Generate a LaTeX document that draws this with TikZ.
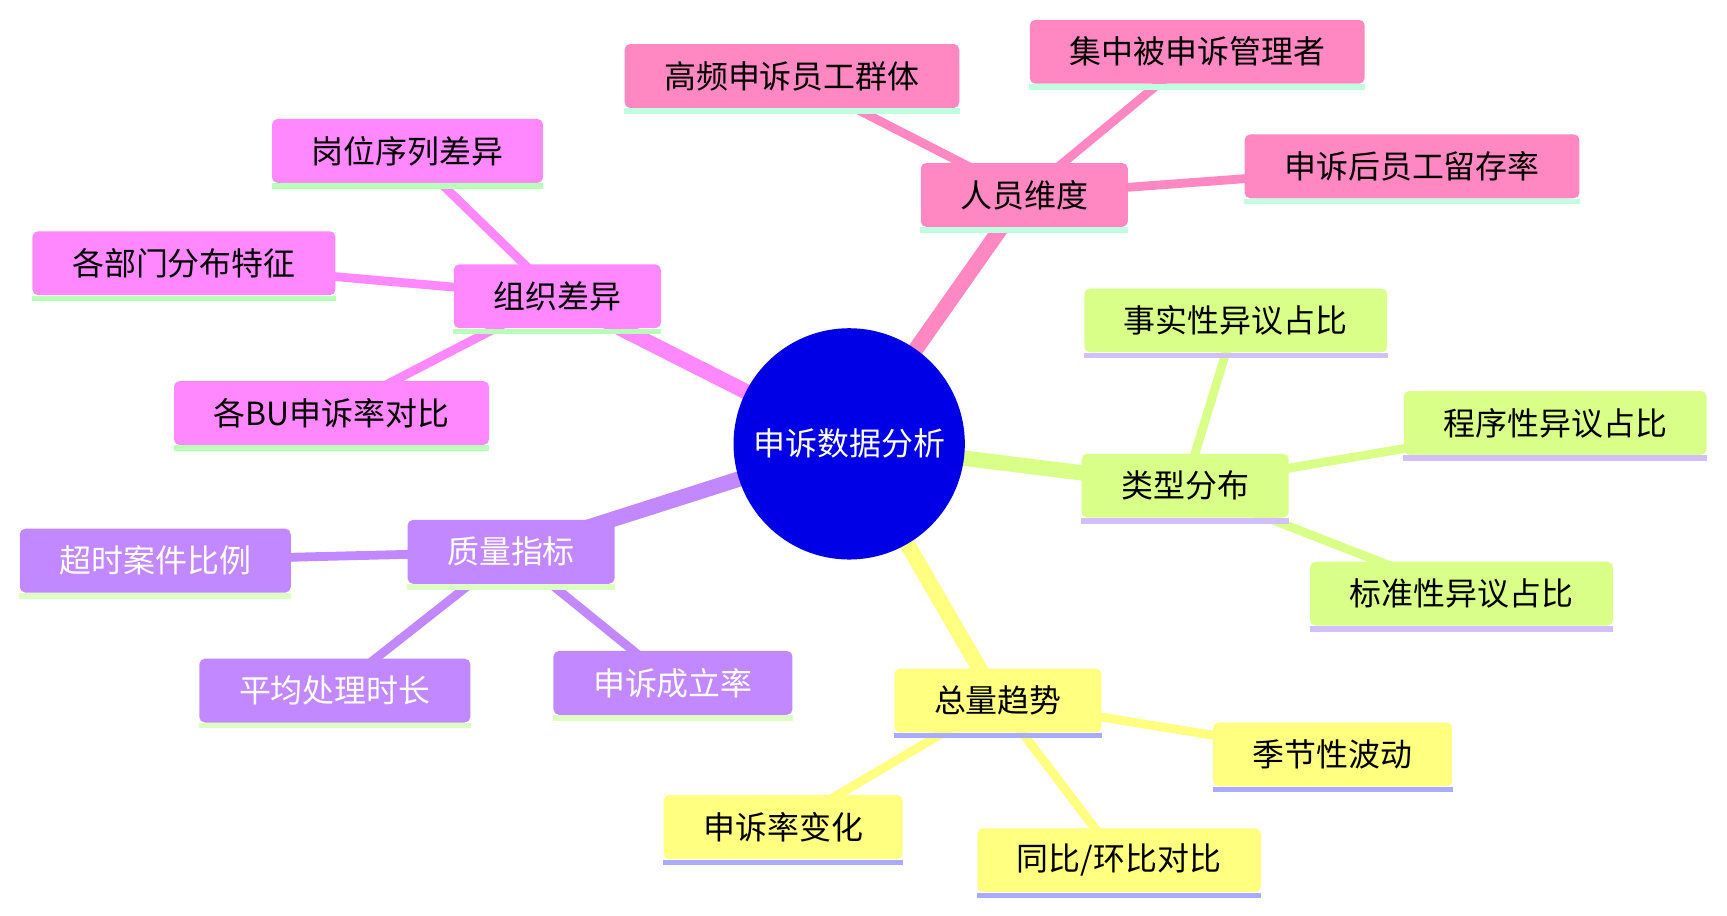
\documentclass[tikz,border=0pt]{standalone}
\usepackage{fontspec}
\setmainfont{Noto Sans CJK SC}
\usetikzlibrary{backgrounds}
\definecolor{cpink}{HTML}{FF88C2}
\definecolor{upink}{HTML}{BFFFE2}
\definecolor{cmag}{HTML}{FF88FF}
\definecolor{umag}{HTML}{B8FFB8}
\definecolor{cpur}{HTML}{C288FF}
\definecolor{upur}{HTML}{DEFFC4}
\definecolor{clime}{HTML}{DAFF88}
\definecolor{ulime}{HTML}{D2BFFF}
\definecolor{cyel}{HTML}{FFFF80}
\definecolor{uyel}{HTML}{AAAAFF}
\definecolor{cblue}{HTML}{0000E6}
\begin{document}
\begin{tikzpicture}[x=0.5pt,y=-0.5pt,
  box/.style={rectangle, rounded corners=2.5pt, minimum height=29pt, inner xsep=18pt, inner ysep=0pt,
    font=\fontsize{14.5pt}{17pt}\selectfont, text=black},
  trunk/.style={line width=7pt},
  twig/.style={line width=4pt},
]
\useasboundingbox (0,0) rectangle (1568,831);

\node[circle, fill=cblue, minimum size=105pt, inner sep=0pt, text=white,
  font=\fontsize{14.5pt}{17pt}\selectfont] (root) at (771,403) {申诉数据分析};

% branch 1
\node[box, fill=cpink] (p) at (930,177) {人员维度};
\node[box, fill=cpink] (p1) at (719,69) {高频申诉员工群体};
\node[box, fill=cpink] (p2) at (1087,47) {集中被申诉管理者};
\node[box, fill=cpink] (p3) at (1282,151) {申诉后员工留存率};
% branch 2
\node[box, fill=cmag] (o) at (506,269) {组织差异};
\node[box, fill=cmag] (o1) at (370,137) {岗位序列差异};
\node[box, fill=cmag] (o2) at (167,239) {各部门分布特征};
\node[box, fill=cmag] (o3) at (301,375) {各BU申诉率对比};
% branch 3
\node[box, fill=cpur, text=white] (q) at (464,501) {质量指标};
\node[box, fill=cpur, text=white] (q1) at (141,509) {超时案件比例};
\node[box, fill=cpur, text=white] (q2) at (304,627) {平均处理时长};
\node[box, fill=cpur, text=white] (q3) at (611,620) {申诉成立率};
% branch 4
\node[box, fill=clime] (t) at (1076,441) {类型分布};
\node[box, fill=clime] (t1) at (1122,291) {事实性异议占比};
\node[box, fill=clime] (t2) at (1412,384) {程序性异议占比};
\node[box, fill=clime] (t3) at (1327,539) {标准性异议占比};
% branch 5
\node[box, fill=cyel] (s) at (906,636) {总量趋势};
\node[box, fill=cyel] (s1) at (1210,685) {季节性波动};
\node[box, fill=cyel] (s2) at (711,751) {申诉率变化};
\node[box, fill=cyel] (s3) at (1016,781) {同比/环比对比};

% underlines
\foreach \n/\c in {p/upink,p1/upink,p2/upink,p3/upink,
                   o/umag,o1/umag,o2/umag,o3/umag,
                   q/upur,q1/upur,q2/upur,q3/upur,
                   t/ulime,t1/ulime,t2/ulime,t3/ulime,
                   s/uyel,s1/uyel,s2/uyel,s3/uyel}
  \fill[\c] (\n.south west) rectangle ([yshift=-2.5pt]\n.south east);

\begin{scope}[on background layer]
  \draw[trunk, cpink] (root.center) -- (p.center);
  \draw[trunk, cmag]  (root.center) -- (o.center);
  \draw[trunk, cpur]  (root.center) -- (q.center);
  \draw[trunk, clime] (root.center) -- (t.center);
  \draw[trunk, cyel]  (root.center) -- (s.center);
  \foreach \a/\b/\c in {p/p1/cpink,p/p2/cpink,p/p3/cpink,
                        o/o1/cmag,o/o2/cmag,o/o3/cmag,
                        q/q1/cpur,q/q2/cpur,q/q3/cpur,
                        t/t1/clime,t/t2/clime,t/t3/clime,
                        s/s1/cyel,s/s2/cyel,s/s3/cyel}
    \draw[twig, \c] (\a.center) -- (\b.center);
\end{scope}
\end{tikzpicture}
\end{document}
